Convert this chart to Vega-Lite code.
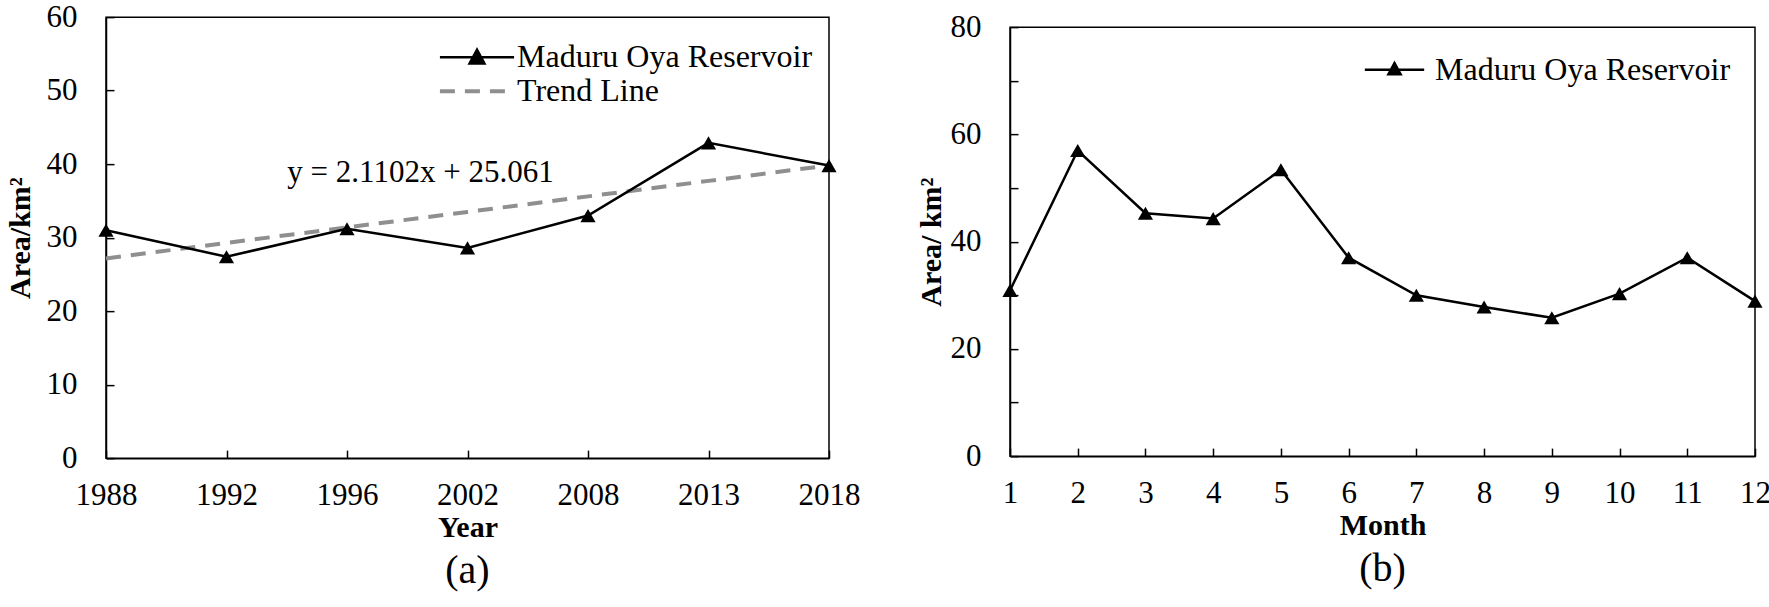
{
  "$schema": "https://vega.github.io/schema/vega-lite/v6.json",
  "background": "white",
  "padding": {"left": 4, "top": 0, "right": 0, "bottom": 0},
  "spacing": 54,
  "center": true,
  "datasets": {
    "annual": [
      {"Year": "1988", "Area": 31.0, "Series": "Maduru Oya Reservoir"},
      {"Year": "1992", "Area": 27.4, "Series": "Maduru Oya Reservoir"},
      {"Year": "1996", "Area": 31.2, "Series": "Maduru Oya Reservoir"},
      {"Year": "2002", "Area": 28.6, "Series": "Maduru Oya Reservoir"},
      {"Year": "2008", "Area": 33.0, "Series": "Maduru Oya Reservoir"},
      {"Year": "2013", "Area": 42.9, "Series": "Maduru Oya Reservoir"},
      {"Year": "2018", "Area": 39.8, "Series": "Maduru Oya Reservoir"}
    ],
    "trend": [
      {"Year": "1988", "Area": 27.17, "Series": "Trend Line"},
      {"Year": "1992", "Area": 29.28, "Series": "Trend Line"},
      {"Year": "1996", "Area": 31.39, "Series": "Trend Line"},
      {"Year": "2002", "Area": 33.50, "Series": "Trend Line"},
      {"Year": "2008", "Area": 35.61, "Series": "Trend Line"},
      {"Year": "2013", "Area": 37.72, "Series": "Trend Line"},
      {"Year": "2018", "Area": 39.83, "Series": "Trend Line"}
    ],
    "equation": [
      {"Text": "y = 2.1102x  + 25.061"}
    ],
    "monthly": [
      {"Month": 1, "Area": 30.9, "Series": "Maduru Oya Reservoir"},
      {"Month": 2, "Area": 57.0, "Series": "Maduru Oya Reservoir"},
      {"Month": 3, "Area": 45.3, "Series": "Maduru Oya Reservoir"},
      {"Month": 4, "Area": 44.3, "Series": "Maduru Oya Reservoir"},
      {"Month": 5, "Area": 53.4, "Series": "Maduru Oya Reservoir"},
      {"Month": 6, "Area": 37.0, "Series": "Maduru Oya Reservoir"},
      {"Month": 7, "Area": 30.0, "Series": "Maduru Oya Reservoir"},
      {"Month": 8, "Area": 27.8, "Series": "Maduru Oya Reservoir"},
      {"Month": 9, "Area": 25.8, "Series": "Maduru Oya Reservoir"},
      {"Month": 10, "Area": 30.3, "Series": "Maduru Oya Reservoir"},
      {"Month": 11, "Area": 37.0, "Series": "Maduru Oya Reservoir"},
      {"Month": 12, "Area": 28.9, "Series": "Maduru Oya Reservoir"}
    ]
  },
  "config": {
    "view": {"stroke": "#000", "strokeWidth": 1.5},
    "axis": {
      "grid": false,
      "domainColor": "#000",
      "domainWidth": 1.5,
      "tickColor": "#000",
      "tickWidth": 1.5,
      "tickSize": -8,
      "labelFont": "Liberation Serif",
      "labelFontSize": 31,
      "labelColor": "#000",
      "titleFont": "Liberation Serif",
      "titleFontSize": 30,
      "titleFontWeight": "bold",
      "titleColor": "#000"
    },
    "axisY": {"labelPadding": 37, "titlePadding": 11},
    "axisX": {"labelPadding": 30, "titlePadding": 2, "labelAngle": 0},
    "title": {"font": "Liberation Serif", "fontSize": 40, "fontWeight": "normal", "color": "#000", "orient": "bottom", "offset": 9},
    "legend": {
      "orient": "top-right",
      "title": null,
      "labelFont": "Liberation Serif",
      "labelFontSize": 32,
      "labelColor": "#000",
      "labelLimit": 500,
      "padding": 0,
      "labelOffset": 24,
      "rowPadding": 2
    }
  },
  "resolve": {
    "scale": {"x": "independent", "y": "independent", "color": "independent"},
    "legend": {"color": "independent"}
  },
  "hconcat": [
    {
      "width": 723,
      "height": 441,
      "title": {"text": "(a)", "subtitle": " ", "subtitleFontSize": 6, "subtitlePadding": 2},
      "layer": [
        {
          "data": {"name": "trend"},
          "mark": {"type": "line", "strokeDash": [15, 10], "strokeWidth": 4},
          "encoding": {
            "x": {"field": "Year", "type": "ordinal", "scale": {"type": "point", "padding": 0}, "axis": {"title": "Year"}},
            "y": {
              "field": "Area", "type": "quantitative",
              "scale": {"domain": [0, 60], "nice": false},
              "axis": {"title": "Area/km²", "values": [0, 5, 10, 15, 20, 25, 30, 35, 40, 45, 50, 55, 60], "labelExpr": "datum.value % 10 === 0 ? datum.label : ''"}
            },
            "color": {
              "field": "Series", "type": "nominal",
              "scale": {"domain": ["Maduru Oya Reservoir", "Trend Line"], "range": ["#000000", "#8f8f8f"]},
              "legend": {
                "offset": 16,
                "title": " ",
                "titleFontSize": 8,
                "titlePadding": 0,
                "symbolSize": 5500,
                "encode": {
                  "symbols": {
                    "update": {
                      "shape": {"signal": "datum.value === 'Trend Line' ? 'M-1,0H1' : 'M-1,0H1M-0.2,0.17L0,-0.2L0.2,0.17Z'"},
                      "fill": {"signal": "datum.value === 'Trend Line' ? 'transparent' : '#000'"},
                      "stroke": {"signal": "datum.value === 'Trend Line' ? '#8f8f8f' : '#000'"},
                      "strokeDash": {"signal": "datum.value === 'Trend Line' ? [15, 10] : [1, 0]"},
                      "strokeWidth": {"signal": "datum.value === 'Trend Line' ? 4 : 2.5"},
                      "opacity": {"value": 1}
                    }
                  }
                }
              }
            }
          }
        },
        {
          "data": {"name": "annual"},
          "mark": {"type": "line", "strokeWidth": 2.5},
          "encoding": {
            "x": {"field": "Year", "type": "ordinal", "axis": {"title": "Year"}},
            "y": {"field": "Area", "type": "quantitative", "axis": {"title": "Area/km²"}},
            "color": {
              "field": "Series", "type": "nominal",
              "scale": {"domain": ["Maduru Oya Reservoir", "Trend Line"], "range": ["#000000", "#8f8f8f"]}
            }
          }
        },
        {
          "data": {"name": "annual"},
          "mark": {"type": "point", "shape": "triangle-up", "filled": true, "size": 230, "color": "#000", "opacity": 1},
          "encoding": {
            "x": {"field": "Year", "type": "ordinal", "axis": {"title": "Year"}},
            "y": {"field": "Area", "type": "quantitative", "axis": {"title": "Area/km²"}}
          }
        },
        {
          "data": {"name": "equation"},
          "mark": {"type": "text", "font": "Liberation Serif", "fontSize": 31, "color": "#000", "align": "center", "baseline": "middle", "dx": -47},
          "encoding": {
            "x": {"datum": "2002", "type": "ordinal"},
            "y": {"datum": 38.8, "type": "quantitative"},
            "text": {"field": "Text", "type": "nominal"}
          }
        }
      ]
    },
    {
      "width": 745,
      "height": 429,
      "title": {"text": "(b)"},
      "data": {"name": "monthly"},
      "encoding": {
        "x": {"field": "Month", "type": "ordinal", "scale": {"type": "point", "padding": 0}, "axis": {"title": "Month"}},
        "y": {
          "field": "Area", "type": "quantitative",
          "scale": {"domain": [0, 80], "nice": false},
          "axis": {"title": "Area/ km²", "titlePadding": 4, "values": [0, 10, 20, 30, 40, 50, 60, 70, 80], "labelExpr": "datum.value % 20 === 0 ? datum.label : ''"}
        }
      },
      "layer": [
        {
          "mark": {"type": "line", "strokeWidth": 2.5},
          "encoding": {
            "color": {
              "field": "Series", "type": "nominal",
              "scale": {"domain": ["Maduru Oya Reservoir"], "range": ["#000000"]},
              "legend": {
                "offset": 24,
                "symbolSize": 1150,
                "labelOffset": 22,
                "encode": {
                  "symbols": {
                    "update": {
                      "shape": {"value": "M-1.75,0H1.75M-0.36,0.28L0,-0.38L0.36,0.28Z"},
                      "fill": {"value": "#000"},
                      "stroke": {"value": "#000"},
                      "strokeWidth": {"value": 2.5},
                      "opacity": {"value": 1}
                    }
                  }
                }
              }
            }
          }
        },
        {
          "mark": {"type": "point", "shape": "triangle-up", "filled": true, "size": 230, "color": "#000", "opacity": 1}
        }
      ]
    }
  ]
}
